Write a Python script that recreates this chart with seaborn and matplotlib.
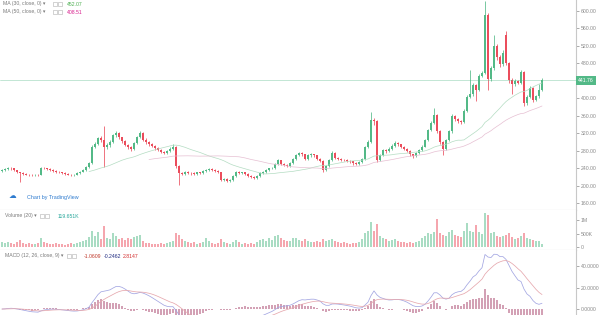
import numpy as np
import pandas as pd
import matplotlib
matplotlib.use("Agg")
import matplotlib.pyplot as plt
import matplotlib.transforms as mtransforms
from matplotlib.patches import Rectangle
import seaborn as sns

# ---------------- data ----------------
opens = [234,236,238,241,240,236,232,230,228,226,
         225,224,226,226,241,240,238,236,234,232,
         231,229,228,226,225,226,229,233,237,243,
         252,290,296,310,306,290,294,300,316,321,
         311,302,294,288,285,298,312,321,306,300,
         296,291,286,282,278,275,280,285,290,245,
         230,228,232,230,229,227,231,230,234,236,
         238,236,234,232,214,216,212,214,222,232,
         230,231,228,222,220,219,222,230,232,236,
         240,241,250,259,250,248,246,252,262,271,
         275,272,262,270,272,270,262,258,236,245,
         259,275,265,262,260,259,257,256,252,250,
         254,262,289,300,351,348,259,270,282,280,
         285,292,298,295,290,285,280,272,268,275,
         282,290,305,328,345,362,325,300,285,305,
         325,360,352,348,346,372,404,410,430,420,
         452,458,590,445,470,520,495,478,545,480,
         442,432,440,436,461,390,404,424,397,405,
         420]
closes = [236,238,241,240,236,232,230,228,226,225,
          224,226,225,241,240,238,236,234,232,231,
          229,228,226,225,226,229,233,237,243,252,
          290,296,310,306,290,294,300,316,321,311,
          302,294,288,285,298,312,321,306,300,296,
          291,286,282,278,275,280,285,290,245,230,
          228,232,230,229,227,231,230,234,236,238,
          236,234,232,214,216,212,214,222,232,230,
          231,228,222,220,219,222,230,232,236,240,
          241,250,259,250,248,246,252,262,271,275,
          272,262,270,272,270,262,258,236,245,259,
          275,265,262,260,259,257,256,252,250,254,
          262,289,300,351,348,259,270,282,280,285,
          292,298,295,290,285,280,272,268,275,282,
          290,305,328,345,362,325,300,285,305,325,
          360,352,348,346,372,404,410,430,420,452,
          458,590,445,470,520,495,478,505,480,442,
          432,440,436,461,390,404,424,397,405,420,
          441.76]
highs = [239,240,244,243,241,237,233,232,230,228,
         227,228,228,243,244,242,240,238,236,234,
         233,231,230,228,228,231,235,239,245,255,
         294,300,313,315,337,298,304,319,326,323,
         313,304,297,291,301,315,326,323,309,303,
         298,294,289,284,280,283,288,297,292,248,
         233,235,234,232,231,233,233,236,239,241,
         240,238,236,233,219,218,217,224,234,234,
         233,232,229,224,222,224,232,235,238,242,
         244,252,262,260,252,250,254,264,274,278,
         277,273,273,275,274,271,264,259,248,262,
         279,277,267,264,262,261,259,258,254,256,
         265,292,305,369,356,350,273,285,285,288,
         295,302,300,297,292,287,282,274,277,285,
         293,308,331,349,378,364,327,303,308,328,
         364,363,356,351,376,408,465,436,434,456,
         463,622,595,475,545,524,500,510,555,484,
         446,444,443,465,463,408,428,426,409,432,
         446]
lows = [232,234,236,237,234,230,209,226,224,223,
        222,222,223,225,238,236,234,232,230,229,
        227,226,224,222,223,224,227,231,235,241,
        250,286,293,300,243,285,290,298,312,308,
        299,291,284,280,283,296,309,303,297,292,
        288,283,279,275,272,273,278,283,240,202,
        224,226,227,226,224,225,227,228,232,234,
        234,232,230,211,211,208,210,212,220,228,
        228,225,220,218,216,217,220,228,230,234,
        238,239,248,247,245,243,244,250,260,268,
        268,259,260,267,267,259,255,232,234,243,
        257,262,259,257,256,254,253,249,247,248,
        252,260,286,298,340,255,256,268,276,278,
        283,290,292,287,282,277,269,265,266,273,
        280,288,303,325,342,320,296,271,283,302,
        322,348,344,341,343,369,400,406,395,416,
        448,455,420,440,466,488,472,474,476,436,
        410,428,432,433,383,386,400,393,394,402,
        418]
volumes_k = [180,150,210,170,140,190,260,150,120,160,
             110,130,150,330,200,170,140,120,160,110,
             130,100,120,150,110,170,200,230,280,380,
             620,420,560,300,780,350,300,520,400,300,
             360,280,330,290,380,430,460,250,170,150,
             120,140,110,160,130,150,180,220,520,460,
             300,240,180,150,200,130,160,190,340,220,
             170,140,160,300,200,160,130,210,260,180,
             140,160,120,150,110,200,280,310,250,330,
             280,400,460,350,260,220,240,330,360,280,
             220,300,250,200,180,240,200,320,220,260,
             300,240,190,160,180,150,140,170,160,200,
             300,520,620,950,600,880,420,360,300,250,
             280,300,220,180,200,170,210,160,200,240,
             330,420,520,480,560,1050,520,460,420,560,
             640,450,400,380,600,900,620,580,820,560,
             480,1270,1180,520,580,430,380,420,460,520,
             380,300,350,420,540,330,300,280,250,220,
             119.651]

price_ticks = [600, 560, 520, 480, 400, 360, 320, 280, 240, 200, 160]
volume_ticks = [0, 500000, 1000000]
volume_tick_labels = ["0", "500K", "1M"]
macd_ticks = [0, 20, 40]
last_price = 441.76
ma30_label, ma50_label = "452.07", "408.51"
vol_label = "119.651K"
macd_labels = ["-1.0609", "-0.2462", "2.8147"]

# ---------------- frame ----------------
df = pd.DataFrame({"open": opens, "high": highs, "low": lows,
                   "close": closes, "volume": np.array(volumes_k) * 1000.0})
n = len(df)
df["idx"] = np.arange(n)
df["ma30"] = df["close"].rolling(30).mean()
df["ma50"] = df["close"].rolling(50).mean()
ema12 = df["close"].ewm(span=12, adjust=False).mean()
ema26 = df["close"].ewm(span=26, adjust=False).mean()
df["macd"] = ema12 - ema26
df["signal"] = df["macd"].ewm(span=9, adjust=False).mean()
df["hist"] = df["macd"] - df["signal"]

UP, DN = "#53b987", "#eb4d5c"
up = df["close"] >= df["open"]
ccol = np.where(up, UP, DN)
vcol = np.where(up, "#a9dcc3", "#f5a6ae")

sns.set_style("white")
FONT = ["Liberation Sans", "DejaVu Sans"]
plt.rcParams["font.family"] = FONT

W, H = 600, 315
fig = plt.figure(figsize=(6, 3.15), dpi=100)
fig.patch.set_facecolor("white")


def frac(x0, y0, x1, y1):
    return [x0 / W, 1 - y1 / H, (x1 - x0) / W, (y1 - y0) / H]


ax_p = fig.add_axes(frac(0, 0, 576, 210))
ax_v = fig.add_axes(frac(0, 210, 576, 250), sharex=ax_p)
ax_m = fig.add_axes(frac(0, 250, 576, 315), sharex=ax_p)

TICKC = "#8a8a8a"
LINEC = "#c8c8c8"
for ax in (ax_p, ax_v, ax_m):
    ax.set_facecolor("white")
    for s in ("top", "left"):
        ax.spines[s].set_visible(False)
    ax.spines["right"].set_color(LINEC)
    ax.spines["right"].set_linewidth(0.8)
    ax.spines["bottom"].set_color(LINEC)
    ax.spines["bottom"].set_linewidth(0.8)
    ax.yaxis.tick_right()
    ax.tick_params(axis="y", which="both", right=True, left=False,
                   labelright=True, labelleft=False, labelsize=3.7,
                   colors=TICKC, length=2, width=0.5, pad=1.5)
    ax.tick_params(axis="x", bottom=False, labelbottom=False)
ax_m.spines["bottom"].set_visible(False)

ax_p.set_xlim(-2 / 3, 574 / 3)

# ---- price pane ----
ax_p.vlines(df["idx"], df["low"], df["high"], colors=ccol, linewidth=0.55)
body_lo = np.minimum(df["open"], df["close"])
body_h = np.maximum(np.abs(df["close"] - df["open"]), 1.0)
ax_p.bar(df["idx"], body_h, bottom=body_lo, width=0.72, color=ccol, linewidth=0)
sns.lineplot(data=df, x="idx", y="ma30", ax=ax_p, color="#b3dcc2", linewidth=0.5)
sns.lineplot(data=df, x="idx", y="ma50", ax=ax_p, color="#e6bfd2", linewidth=0.5)
ax_p.axhline(last_price, color=UP, linewidth=0.5, alpha=0.5)
ax_p.set_ylim(145.1, 625.1)
ax_p.set_yticks(price_ticks)
ax_p.set_yticklabels([f"{t:.2f}" for t in price_ticks])
ax_p.set_xlabel("")
ax_p.set_ylabel("")
trans = mtransforms.blended_transform_factory(ax_p.transAxes, ax_p.transData)
ax_p.text(1.004, last_price, f"{last_price:.2f}", transform=trans, ha="left",
          va="center", fontsize=3.7, color="white",
          bbox=dict(boxstyle="square,pad=0.4", fc=UP, ec="none"))

# ---- volume pane ----
ax_v.bar(df["idx"], df["volume"], width=0.72, color=vcol, linewidth=0)
ax_v.set_ylim(-0.1e6, 1.38e6)
ax_v.set_yticks(volume_ticks)
ax_v.set_yticklabels(volume_tick_labels)
ax_v.set_xlabel("")
ax_v.set_ylabel("")

# ---- MACD pane ----
ax_m.bar(df["idx"], df["hist"], width=0.4, color="#d3a1b5", linewidth=0)
sns.lineplot(data=df, x="idx", y="macd", ax=ax_m, color="#a3a6e2", linewidth=0.55)
sns.lineplot(data=df, x="idx", y="signal", ax=ax_m, color="#e6a8ae", linewidth=0.55)
ax_m.set_ylim(-5.6, 55.4)
ax_m.set_yticks(macd_ticks)
ax_m.set_yticklabels([f"{t:.4f}" for t in macd_ticks])
ax_m.set_xlabel("")
ax_m.set_ylabel("")

# ---------------- legends / overlay texts ----------------
LEG = "#7a7a7a"


def ftxt(x, y, s, color=LEG, size=3.7, **kw):
    fig.text(x / W, 1 - y / H, s, color=color, fontsize=size, va="center",
             ha="left", family=FONT, **kw)


def boxes(x, y):
    for dx in (0, 5):
        fig.patches.append(Rectangle(((x + dx) / W, 1 - (y + 2) / H), 4 / W, 4 / H,
                                     transform=fig.transFigure, fill=False,
                                     ec="#b0b0b0", lw=0.4))


ftxt(3, 4, "MA (30, close, 0) \u25be")
boxes(53, 4)
ftxt(67, 4, ma30_label, color="#4caf50")
ftxt(3, 12, "MA (50, close, 0) \u25be")
boxes(53, 12)
ftxt(67, 12, ma50_label, color="#d81b8c")

ftxt(5, 216, "Volume (20) \u25be")
boxes(40, 216)
ftxt(58, 216, vol_label, color="#26a69a")

ftxt(5, 256, "MACD (12, 26, close, 9) \u25be")
boxes(67, 256)
ftxt(84, 256, macd_labels[0], color="#c0392b")
ftxt(104, 256, macd_labels[1], color="#1f2a80")
ftxt(123, 256, macd_labels[2], color="#d32f2f")

ftxt(9, 197, "\u2601", color="#2e7bcf", size=5.5)
ftxt(27, 197, "Chart by TradingView", color="#2e7bcf", size=3.9)

fig.savefig("out.png", dpi=100)
